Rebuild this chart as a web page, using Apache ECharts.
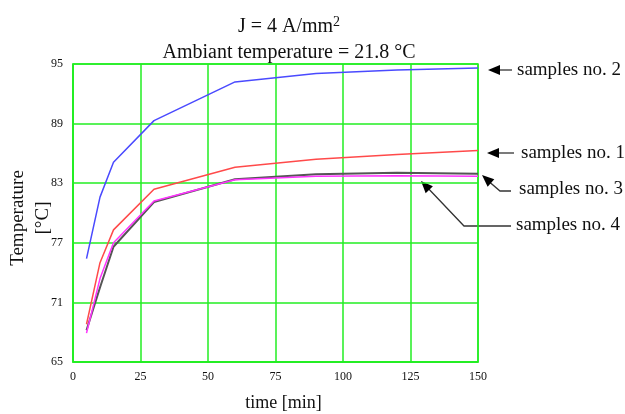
<!DOCTYPE html>
<html>
<head>
<meta charset="utf-8">
<script src="https://cdn.jsdelivr.net/npm/echarts@6/dist/echarts.min.js"></script>
<style>
  html, body { margin: 0; padding: 0; background: #fff; }
  #main { width: 625px; height: 414px; }
</style>
</head>
<body>
<div id="main"></div>
<script>
// time [min]
const times = [5, 10, 15, 30, 60, 90, 120, 150];
// temperatures [°C]
const sample1 = [68.8, 75.0, 78.3, 82.4, 84.6, 85.4, 85.9, 86.3];
const sample2 = [75.4, 81.6, 85.1, 89.3, 93.2, 94.05, 94.4, 94.6];
const sample3 = [68.2, 72.5, 76.6, 81.1, 83.4, 83.9, 84.05, 83.95];
const sample4 = [67.9, 73.4, 77.0, 81.2, 83.35, 83.7, 83.75, 83.7];
const xTicks = [0, 25, 50, 75, 100, 125, 150];
const yTicks = [65, 71, 77, 83, 89, 95];

const serif = "'Liberation Serif', 'DejaVu Serif', serif";
const green = "#22ee22";

function pairs(vals) {
  return times.map((t, i) => [t, vals[i]]);
}

function arrowHead(tip, dir) {
  // small filled triangle pointing at tip
  const len = 12, half = 5;
  const n = Math.hypot(dir[0], dir[1]);
  const ux = dir[0] / n, uy = dir[1] / n;
  const bx = tip[0] + ux * len, by = tip[1] + uy * len;
  return {
    type: "polygon",
    shape: { points: [tip, [bx - uy * half, by + ux * half], [bx + uy * half, by - ux * half]] },
    style: { fill: "#000" }
  };
}

function label(text, x, y) {
  return {
    type: "text",
    x: x, y: y,
    style: { text: text, font: "19px " + serif, fill: "#111", verticalAlign: "middle", align: "left" }
  };
}

function path(points) {
  return {
    type: "polyline",
    shape: { points: points },
    style: { stroke: "#333", lineWidth: 1.3, fill: null }
  };
}

const myChart = echarts.init(document.getElementById("main"));

myChart.setOption({
  animation: false,
  title: [
    {
      text: "J = 4 A/mm{sup|2}",
      left: 284, top: 10, textAlign: "center",
      textStyle: {
        fontFamily: serif, fontSize: 20, fontWeight: "normal", color: "#111",
        rich: { sup: { fontFamily: serif, fontSize: 14, verticalAlign: "top", padding: [0, 0, 9, 0], color: "#111" } }
      }
    },
    {
      text: "Ambiant temperature = 21.8 \u00b0C",
      left: 284, top: 38, textAlign: "center",
      textStyle: { fontFamily: serif, fontSize: 20, fontWeight: "normal", color: "#111" }
    }
  ],
  grid: {
    left: 73, right: 147, top: 64, bottom: 52,
    outerBoundsMode: "none",
    containLabel: false,
    show: true, borderColor: green, borderWidth: 1.5
  },
  xAxis: {
    type: "value",
    min: 0, max: 150, interval: 25,
    name: "time [min]",
    nameLocation: "middle",
    nameGap: 32,
    nameTextStyle: { fontFamily: serif, fontSize: 18, color: "#111", padding: [0, 0, 0, 16] },
    axisLine: { show: true, lineStyle: { color: green, width: 1.5 } },
    axisTick: { show: false },
    splitLine: { show: true, lineStyle: { color: green, width: 1.5 } },
    axisLabel: {
      fontFamily: serif, fontSize: 12, color: "#111", margin: 9,
      formatter: v => xTicks.includes(v) ? String(v) : ""
    }
  },
  yAxis: {
    type: "value",
    min: 65, max: 95, interval: 6,
    name: "Temperature\n[\u00b0C]",
    nameLocation: "middle",
    nameGap: 17,
    nameMoveOverlap: false,
    nameRotate: 90,
    nameTextStyle: { fontFamily: serif, fontSize: 19, color: "#111", lineHeight: 25, padding: [0, 10, 0, 0] },
    axisLine: { show: true, lineStyle: { color: green, width: 1.5 } },
    axisTick: { show: false },
    splitLine: { show: true, lineStyle: { color: green, width: 1.5 } },
    axisLabel: {
      fontFamily: serif, fontSize: 12, color: "#111", margin: 10,
      formatter: v => yTicks.includes(v) ? String(v) : ""
    }
  },
  series: [
    { name: "samples no. 1", type: "line", data: pairs(sample1), showSymbol: false, lineStyle: { color: "#ff4a4a", width: 1.5 } },
    { name: "samples no. 2", type: "line", data: pairs(sample2), showSymbol: false, lineStyle: { color: "#4a4aff", width: 1.5 } },
    { name: "samples no. 3", type: "line", data: pairs(sample3), showSymbol: false, lineStyle: { color: "#555555", width: 2 } },
    { name: "samples no. 4", type: "line", data: pairs(sample4), showSymbol: false, lineStyle: { color: "#ff33ff", width: 1.5 } }
  ],
  graphic: [
    // samples no. 2
    path([[496, 70], [512, 70]]),
    arrowHead([488, 70], [1, 0]),
    label("samples no. 2", 517, 70),
    // samples no. 1
    path([[495, 153], [514, 153]]),
    arrowHead([487, 153], [1, 0]),
    label("samples no. 1", 521, 153),
    // samples no. 3
    path([[486, 179], [500, 191], [511, 191]]),
    arrowHead([482, 175], [18, 16]),
    label("samples no. 3", 519, 189),
    // samples no. 4
    path([[425, 185], [464, 226], [511, 226]]),
    arrowHead([421, 181], [43, 45]),
    label("samples no. 4", 516, 225)
  ]
});
</script>
</body>
</html>
